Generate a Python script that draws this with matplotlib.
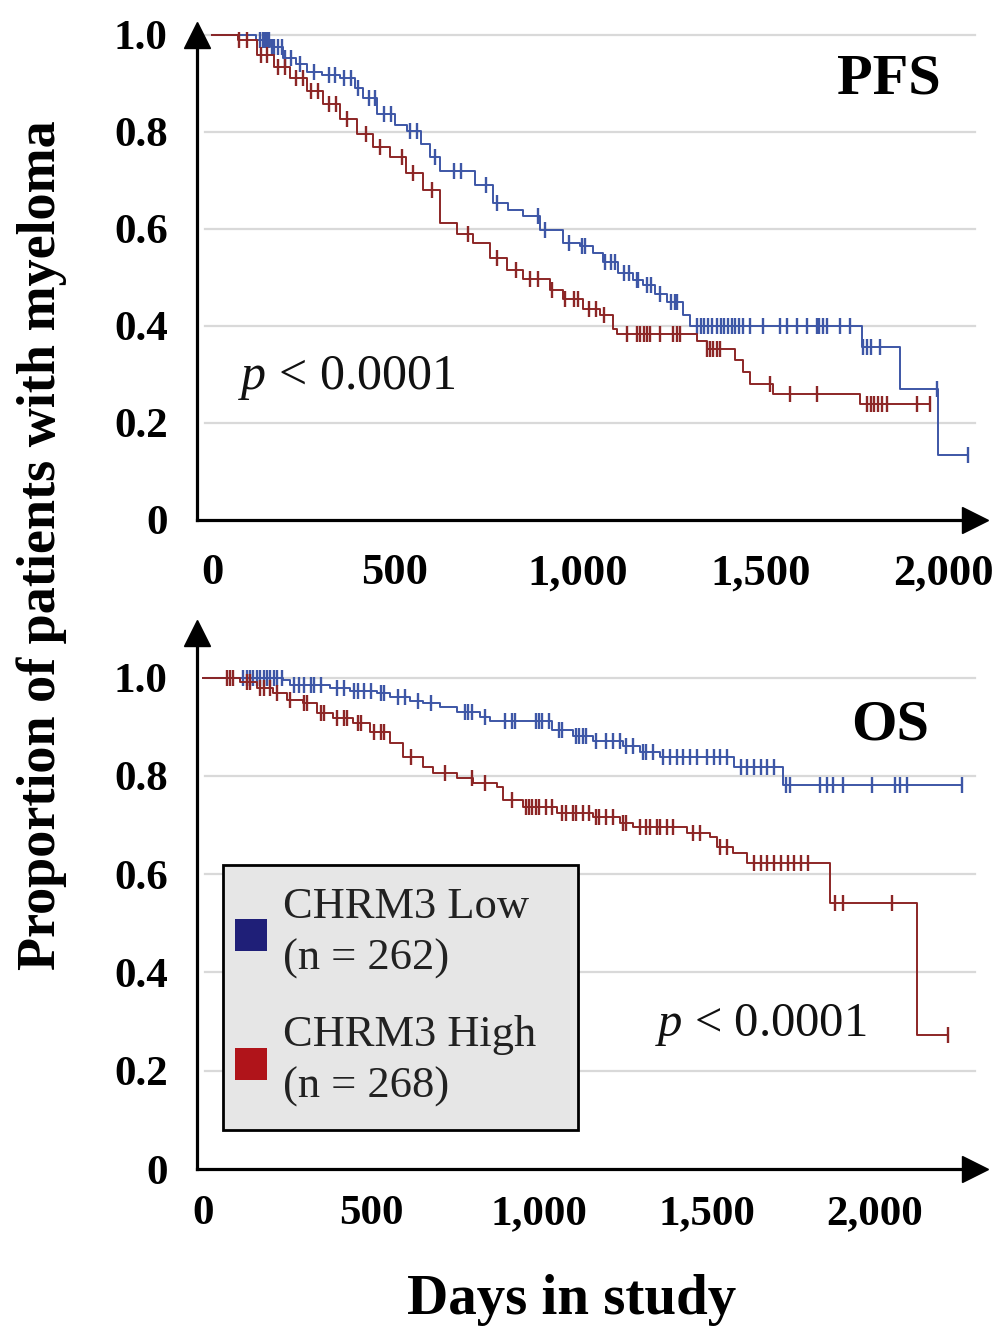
import numpy as np
import matplotlib
matplotlib.use("Agg")
import matplotlib.pyplot as plt
from matplotlib.patches import Rectangle

plt.rcParams['font.family'] = ['Liberation Serif', 'DejaVu Serif']
plt.rcParams['mathtext.fontset'] = 'custom'
plt.rcParams['mathtext.it'] = 'Liberation Serif:italic'
plt.rcParams['mathtext.rm'] = 'Liberation Serif'

# ---------------- data ----------------
# PFS, CHRM3 Low (blue)
pfs_low_t = [0, 120, 160, 194, 230, 260, 300, 350, 390, 413, 451, 500, 533, 570, 596, 623,
             720, 768, 810, 850, 896, 959, 1005, 1040, 1068, 1110, 1150, 1178, 1210, 1243,
             1287, 1306, 1776, 1880, 1984, 2066]
pfs_low_s = [1.0, 0.99, 0.975, 0.953, 0.94, 0.924, 0.918, 0.912, 0.89, 0.871, 0.837, 0.815,
             0.802, 0.775, 0.749, 0.72, 0.69, 0.653, 0.64, 0.627, 0.598, 0.571, 0.565, 0.55,
             0.531, 0.51, 0.495, 0.484, 0.465, 0.449, 0.422, 0.40, 0.357, 0.271, 0.133, 0.133]
pfs_low_c = [130, 140, 145, 150, 155, 165, 170, 180, 190, 200, 215, 240, 280, 320, 335, 360,
             380, 400, 430, 445, 470, 490, 540, 560, 610, 660, 680, 750, 780, 890, 910, 975,
             1010, 1020, 1075, 1090, 1100, 1125, 1140, 1160, 1165, 1190, 1200, 1225, 1255,
             1265, 1270, 1325, 1335, 1345, 1355, 1365, 1380, 1390, 1400, 1410, 1420, 1430,
             1440, 1451, 1470, 1505, 1552, 1571, 1598, 1626, 1653, 1660, 1670, 1680, 1716,
             1743, 1779, 1790, 1800, 1825, 1981, 2066]

# PFS, CHRM3 High (red)
pfs_high_t = [0, 70, 123, 170, 213, 260, 303, 350, 396, 440, 486, 530, 577, 623, 670, 713,
              760, 806, 850, 923, 960, 1014, 1060, 1096, 1107, 1325, 1352, 1430, 1451, 1470,
              1533, 1770, 1962]
pfs_high_s = [1.0, 0.99, 0.959, 0.935, 0.912, 0.885, 0.857, 0.826, 0.796, 0.77, 0.749, 0.715,
              0.68, 0.612, 0.59, 0.571, 0.54, 0.516, 0.496, 0.475, 0.455, 0.435, 0.422, 0.394,
              0.384, 0.37, 0.353, 0.33, 0.306, 0.28, 0.259, 0.239, 0.239]
pfs_high_c = [75, 95, 135, 150, 180, 200, 230, 250, 270, 290, 320, 340, 370, 420, 460, 520,
              550, 600, 700, 780, 830, 870, 890, 930, 965, 990, 1000, 1030, 1050, 1070, 1134,
              1161, 1170, 1180, 1190, 1197, 1224, 1260, 1270, 1279, 1352, 1360, 1370, 1380,
              1388, 1525, 1579, 1653, 1790, 1800, 1810, 1820, 1830, 1844, 1926, 1962]

# OS, CHRM3 Low (blue)
os_low_t = [0, 238, 259, 378, 438, 518, 557, 616, 655, 705, 756, 824, 854, 1040, 1100, 1160,
            1250, 1300, 1360, 1580, 1726, 2259]
os_low_s = [1.0, 0.995, 0.985, 0.979, 0.972, 0.968, 0.96, 0.952, 0.948, 0.94, 0.93, 0.92,
            0.912, 0.893, 0.88, 0.87, 0.86, 0.848, 0.838, 0.818, 0.781, 0.781]
os_low_c = [120, 130, 140, 150, 160, 170, 180, 190, 200, 210, 220, 235, 270, 285, 300, 320,
            330, 350, 400, 420, 450, 460, 480, 500, 530, 540, 580, 600, 640, 680, 780, 790,
            800, 840, 900, 920, 930, 990, 1000, 1010, 1030, 1060, 1070, 1110, 1120, 1130,
            1140, 1170, 1200, 1220, 1240, 1260, 1280, 1310, 1320, 1340, 1370, 1390, 1410,
            1430, 1450, 1470, 1500, 1520, 1540, 1560, 1600, 1620, 1640, 1660, 1680, 1700,
            1735, 1747, 1836, 1857, 1875, 1905, 1991, 2060, 2074, 2095, 2259]

# OS, CHRM3 High (red)
os_high_t = [0, 110, 161, 208, 250, 298, 339, 387, 446, 497, 557, 595, 655, 685, 756, 804,
             875, 893, 952, 1054, 1161, 1241, 1280, 1440, 1509, 1530, 1577, 1619, 1866, 2125,
             2217]
os_high_s = [1.0, 0.99, 0.978, 0.968, 0.955, 0.948, 0.928, 0.918, 0.907, 0.889, 0.867, 0.838,
             0.818, 0.806, 0.796, 0.785, 0.777, 0.751, 0.737, 0.724, 0.716, 0.704, 0.696,
             0.684, 0.675, 0.655, 0.643, 0.623, 0.541, 0.273, 0.273]
os_high_c = [71, 80, 90, 130, 140, 170, 180, 200, 220, 260, 300, 310, 350, 360, 400, 420, 430,
             460, 470, 510, 530, 540, 620, 720, 800, 840, 920, 960, 970, 980, 990, 1000, 1020,
             1040, 1070, 1080, 1100, 1110, 1130, 1150, 1170, 1180, 1200, 1220, 1250, 1260,
             1300, 1320, 1330, 1350, 1360, 1380, 1400, 1460, 1480, 1540, 1560, 1640, 1660,
             1680, 1700, 1720, 1740, 1760, 1780, 1800, 1881, 1905, 2050, 2217]

y_ticks = [0, 0.2, 0.4, 0.6, 0.8, 1.0]
y_ticklabels = ["0", "0.2", "0.4", "0.6", "0.8", "1.0"]
x_ticks = [0, 500, 1000, 1500, 2000]
x_ticklabels = ["0", "500", "1,000", "1,500", "2,000"]
legend_labels = ["CHRM3 Low\n(n = 262)", "CHRM3 High\n(n = 268)"]
p_text = r"$p$ < 0.0001"

BLUE = '#3d56a6'
RED = '#8c2626'
W, H = 1006, 1327
fig = plt.figure(figsize=(W / 100, H / 100), dpi=100)


def step_val(t_arr, s_arr, t):
    idx = np.searchsorted(np.asarray(t_arr), t, side='right') - 1
    return np.asarray(s_arr)[idx]


def km(ax, t, s, c, color):
    ax.plot(t, s, drawstyle='steps-post', color=color, lw=1.4, clip_on=False, zorder=3)
    c = np.asarray(c, dtype=float)
    ax.plot(c, step_val(t, s, c), ls='none', marker='|', ms=11, mew=1.7,
            color=color, clip_on=False, zorder=3)


def style_axes(ax, xlim, ylim, xpad, label_size_x):
    ax.set_xlim(*xlim)
    ax.set_ylim(*ylim)
    for sp in ['top', 'right']:
        ax.spines[sp].set_visible(False)
    for sp in ['left', 'bottom']:
        ax.spines[sp].set_linewidth(2.3)
        ax.spines[sp].set_color('black')
    ax.set_yticks(y_ticks)
    ax.set_yticklabels(y_ticklabels, fontsize=31, fontweight='bold')
    ax.set_xticks(x_ticks)
    ax.set_xticklabels(x_ticklabels, fontsize=label_size_x, fontweight='bold')
    ax.tick_params(axis='y', length=0, pad=21)
    ax.tick_params(axis='x', length=0, pad=xpad)
    for yv in y_ticks[1:]:
        ax.axhline(yv, color='#d9d9d9', lw=1.6, zorder=1, clip_on=False,
                   xmin=0.01, xmax=1.0)
    ax.plot(1, 0, '>', color='black', ms=19, transform=ax.transAxes, clip_on=False, zorder=5)
    ax.plot(0, 1, '^', color='black', ms=19, transform=ax.transAxes, clip_on=False, zorder=5)


# top panel (PFS)
ax1 = fig.add_axes([197 / W, 1 - 520 / H, 778 / W, 485 / H])
km(ax1, pfs_low_t, pfs_low_s, pfs_low_c, BLUE)
km(ax1, pfs_high_t, pfs_high_s, pfs_high_c, RED)
style_axes(ax1, (-41, 2085), (0, 485 / 490), 24, 32)

# bottom panel (OS)
ax2 = fig.add_axes([197 / W, 1 - 1169 / H, 778 / W, 536 / H])
km(ax2, os_low_t, os_low_s, os_low_c, BLUE)
km(ax2, os_high_t, os_high_s, os_high_c, RED)
style_axes(ax2, (-18, 2298), (0, 536 / 491.5), 19, 31)

# annotations
fig.text(889 / W, 1 - 80 / H, "PFS", fontsize=42, fontweight='bold', ha='center', va='center')
fig.text(890 / W, 1 - 726 / H, "OS", fontsize=42, fontweight='bold', ha='center', va='center')
fig.text(238 / W, 1 - 378 / H, p_text, fontsize=36, ha='left', va='center', color='#111111')
fig.text(655 / W, 1 - 1025 / H, p_text, fontsize=35, ha='left', va='center', color='#111111')

fig.text(42 / W, 1 - 545 / H, "Proportion of patients with myeloma", rotation=90,
         fontsize=39, fontweight='bold', ha='center', va='center')
fig.text(572 / W, 1 - 1300 / H, "Days in study", fontsize=41, fontweight='bold',
         ha='center', va='center')

# legend (drawn in figure coordinates)
fig.patches.append(Rectangle((223 / W, 1 - 1130 / H), 355 / W, 265 / H,
                             transform=fig.transFigure, facecolor='#e6e6e6',
                             edgecolor='black', lw=2, zorder=6))
fig.patches.append(Rectangle((235 / W, 1 - 951 / H), 32 / W, 32 / H, transform=fig.transFigure,
                             facecolor='#1f1f78', edgecolor='none', zorder=7))
fig.patches.append(Rectangle((235 / W, 1 - 1080 / H), 32 / W, 32 / H, transform=fig.transFigure,
                             facecolor='#b0141a', edgecolor='none', zorder=7))
fig.text(283 / W, 1 - 933 / H, legend_labels[0], fontsize=32, ha='left', va='center',
         color='#222222', linespacing=1.35, zorder=8)
fig.text(283 / W, 1 - 1061 / H, legend_labels[1], fontsize=32, ha='left', va='center',
         color='#222222', linespacing=1.35, zorder=8)

fig.savefig("out.png", dpi=100)
